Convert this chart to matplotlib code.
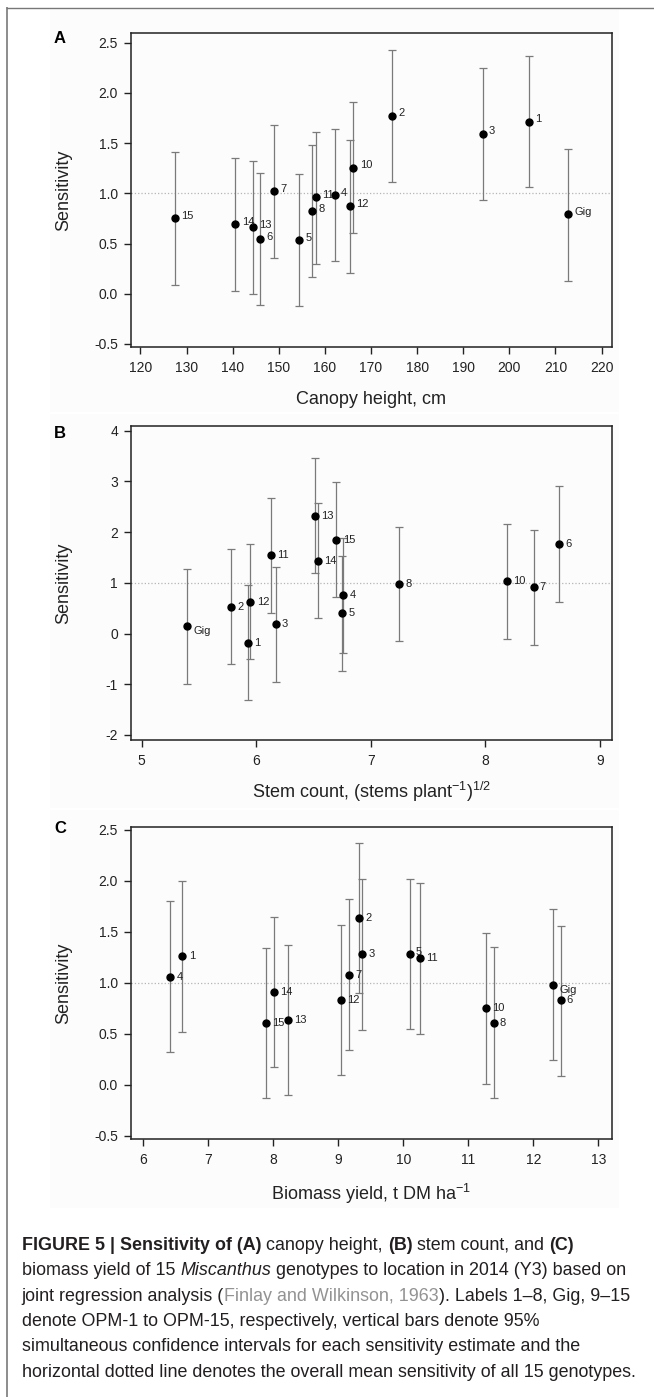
import matplotlib
matplotlib.use('Agg')
import matplotlib.pyplot as plt
from matplotlib import font_manager
from matplotlib.lines import Line2D
from matplotlib.patches import Rectangle

W, H = 654, 1397
DPI = 100

# (A) canopy height vs sensitivity
labels_a = ['15', '14', '13', '6', '7', '5', '8', '11', '4', '12', '10', '2', '3', '1', 'Gig']
x_a = [127.4, 140.6, 144.4, 146.0, 149.0, 154.4, 157.2, 158.0, 162.1, 165.4, 166.2, 174.6, 194.2, 204.2, 212.8]
y_a = [0.75, 0.69, 0.66, 0.54, 1.02, 0.53, 0.82, 0.96, 0.98, 0.87, 1.25, 1.77, 1.59, 1.71, 0.79]
lo_a = [0.09, 0.03, 0.00, -0.11, 0.36, -0.12, 0.17, 0.30, 0.33, 0.21, 0.60, 1.11, 0.93, 1.06, 0.13]
hi_a = [1.41, 1.35, 1.32, 1.20, 1.68, 1.19, 1.48, 1.61, 1.64, 1.53, 1.91, 2.43, 2.25, 2.37, 1.44]

# (B) stem count vs sensitivity
labels_b = ['Gig', '2', '12', '1', '11', '3', '13', '14', '15', '4', '5', '8', '10', '7', '6']
x_b = [5.40, 5.78, 5.95, 5.93, 6.13, 6.17, 6.51, 6.54, 6.70, 6.76, 6.75, 7.25, 8.19, 8.42, 8.64]
y_b = [0.14, 0.53, 0.62, -0.18, 1.54, 0.18, 2.32, 1.44, 1.85, 0.76, 0.40, 0.98, 1.03, 0.91, 1.76]
lo_b = [-1.00, -0.61, -0.51, -1.32, 0.41, -0.96, 1.20, 0.30, 0.72, -0.38, -0.73, -0.15, -0.10, -0.22, 0.63]
hi_b = [1.27, 1.67, 1.76, 0.96, 2.68, 1.32, 3.46, 2.58, 2.99, 1.89, 1.53, 2.11, 2.17, 2.05, 2.90]

# (C) biomass yield vs sensitivity
labels_c = ['4', '1', '15', '14', '13', '12', '7', '2', '3', '5', '11', '10', '8', 'Gig', '6']
x_c = [6.41, 6.60, 7.88, 8.01, 8.23, 9.04, 9.17, 9.32, 9.37, 10.11, 10.25, 11.27, 11.39, 12.31, 12.42]
y_c = [1.06, 1.26, 0.61, 0.91, 0.64, 0.83, 1.08, 1.64, 1.28, 1.28, 1.24, 0.75, 0.61, 0.98, 0.83]
lo_c = [0.32, 0.52, -0.13, 0.17, -0.10, 0.10, 0.34, 0.90, 0.54, 0.55, 0.50, 0.01, -0.13, 0.24, 0.09]
hi_c = [1.80, 2.00, 1.34, 1.65, 1.37, 1.57, 1.82, 2.37, 2.02, 2.02, 1.98, 1.49, 1.35, 1.72, 1.56]

mean_sensitivity = 1.0

xticks_a = [120, 130, 140, 150, 160, 170, 180, 190, 200, 210, 220]
yticks_a = [-0.5, 0.0, 0.5, 1.0, 1.5, 2.0, 2.5]
xticks_b = [5, 6, 7, 8, 9]
yticks_b = [-2, -1, 0, 1, 2, 3, 4]
xticks_c = [6, 7, 8, 9, 10, 11, 12, 13]
yticks_c = [-0.5, 0.0, 0.5, 1.0, 1.5, 2.0, 2.5]

caption_lines = [
    [('FIGURE 5 | Sensitivity of (A)', 'b'), (' canopy height, ', 'r'), ('(B)', 'b'),
     (' stem count, and ', 'r'), ('(C)', 'b')],
    [('biomass yield of 15 ', 'r'), ('Miscanthus', 'i'),
     (' genotypes to location in 2014 (Y3) based on', 'r')],
    [('joint regression analysis (', 'r'), ('Finlay and Wilkinson, 1963', 'g'),
     ('). Labels 1\u20138, Gig, 9\u201315', 'r')],
    [('denote OPM-1 to OPM-15, respectively, vertical bars denote 95%', 'r')],
    [('simultaneous confidence intervals for each sensitivity estimate and the', 'r')],
    [('horizontal dotted line denotes the overall mean sensitivity of all 15 genotypes.', 'r')],
]

installed = {f.name for f in font_manager.fontManager.ttflist}
BASE = 'Liberation Sans' if 'Liberation Sans' in installed else 'DejaVu Sans'
NARROW = 'Liberation Sans Narrow' if 'Liberation Sans Narrow' in installed else BASE

plt.rcParams['font.family'] = [BASE, 'DejaVu Sans']
plt.rcParams['axes.unicode_minus'] = False
plt.rcParams['mathtext.fontset'] = 'custom'
plt.rcParams['mathtext.rm'] = BASE
plt.rcParams['mathtext.it'] = BASE + ':italic'
plt.rcParams['mathtext.bf'] = BASE + ':bold'

TXT = '#222222'


def fx(px):
    return px / W


def fy(py):
    return 1 - py / H


fig = plt.figure(figsize=(W / DPI, H / DPI), dpi=DPI)
fig.patch.set_facecolor('white')

# outer frame of the figure box (left and top only)
fig.add_artist(Line2D([fx(7.3), fx(7.3)], [fy(8.3), 0], transform=fig.transFigure,
                      color='#8c8c8c', linewidth=1.4))
fig.add_artist(Line2D([fx(7.3), 1], [fy(8.3), fy(8.3)], transform=fig.transFigure,
                      color='#777777', linewidth=1.0))

panels = [
    dict(letter='A', top=32.7, bottom=347.3, base=43.3, x=x_a, y=y_a, lo=lo_a, hi=hi_a,
         labels=labels_a, xlim=(117.9, 222.2), ylim=(-0.534, 2.6), xticks=xticks_a,
         yticks=yticks_a, yfmt='{:.1f}', xlabel='Canopy height, cm', xlab_y=400.0,
         dy=2.0, special={}, bg=(10, 412)),
    dict(letter='B', top=426.0, bottom=740.0, base=438.3, x=x_b, y=y_b, lo=lo_b, hi=hi_b,
         labels=labels_b, xlim=(4.905, 9.102), ylim=(-2.099, 4.093), xticks=xticks_b,
         yticks=yticks_b, yfmt='{:.0f}',
         xlabel=r'Stem count, (stems plant$^{\mathregular{-1}}$)$^{\mathregular{1/2}}$',
         xlab_y=791.7, dy=0.0, special={'Gig': (4.5, -3.5)}, bg=(414, 808)),
    dict(letter='C', top=826.7, bottom=1139.3, base=833.3, x=x_c, y=y_c, lo=lo_c, hi=hi_c,
         labels=labels_c, xlim=(5.805, 13.206), ylim=(-0.535, 2.532), xticks=xticks_c,
         yticks=yticks_c, yfmt='{:.1f}', xlabel=r'Biomass yield, t DM ha$^{\mathregular{-1}}$',
         xlab_y=1194.3, dy=0.0, special={'Gig': (4.5, -3.5), '5': (4.0, 2.0)}, bg=(810, 1208)),
]

left_px, right_px = 130.7, 611.7

for p in panels:
    # faint grey background of the pasted panel image
    fig.add_artist(Rectangle((fx(50), fy(p['bg'][1])), fx(619) - fx(50),
                             (p['bg'][1] - p['bg'][0]) / H, transform=fig.transFigure,
                             facecolor='#fcfcfc', edgecolor='none', zorder=-1))

    h_px = p['bottom'] - p['top']
    ax = fig.add_axes([fx(left_px), fy(p['bottom']), (right_px - left_px) / W, h_px / H])
    ax.set_facecolor('none')

    yerr = [[yi - l for yi, l in zip(p['y'], p['lo'])],
            [h - yi for yi, h in zip(p['y'], p['hi'])]]
    ax.axhline(mean_sensitivity, color='#b5b5b5', linestyle=':', linewidth=0.9, zorder=1)
    ax.errorbar(p['x'], p['y'], yerr=yerr, fmt='none', ecolor='#7a7a7a',
                elinewidth=0.9, capsize=2.9, capthick=0.9, zorder=2)
    ax.plot(p['x'], p['y'], 'o', color='black', markersize=5, zorder=3)

    for lab, xi, yi in zip(p['labels'], p['x'], p['y']):
        off = p['special'].get(lab, (4.5, p['dy']))
        ax.annotate(lab, (xi, yi), xytext=off, textcoords='offset points',
                    fontsize=8, ha='left', va='center', color=TXT)

    ax.set_xlim(*p['xlim'])
    ax.set_ylim(*p['ylim'])
    ax.set_xticks(p['xticks'])
    ax.set_xticklabels([str(t) for t in p['xticks']])
    ax.set_yticks(p['yticks'])
    ax.set_yticklabels([p['yfmt'].format(t) for t in p['yticks']])

    for sp in ax.spines.values():
        sp.set_linewidth(1.1)
        sp.set_color(TXT)
    ax.tick_params(direction='out', length=4.8, width=1.0, colors=TXT, labelsize=10)
    ax.tick_params(axis='x', pad=5)
    ax.tick_params(axis='y', pad=4.3)

    ax.set_xlabel(p['xlabel'], fontsize=13, color=TXT)
    ax.xaxis.label.set_va('center')
    ax.xaxis.set_label_coords(0.5, -(p['xlab_y'] - p['bottom']) / h_px)
    ax.set_ylabel('Sensitivity', fontsize=13, color=TXT)
    ax.yaxis.label.set_va('center')
    ax.yaxis.set_label_coords(-(left_px - 63.3) / (right_px - left_px), 0.5)

    fig.text(fx(60), fy(p['base']), p['letter'], fontsize=12, fontweight='bold',
             ha='center', va='baseline', color='black')

# caption, laid out run by run
renderer = fig.canvas.get_renderer()


def text_width(s, **kw):
    t = fig.text(0, 0, '|' + s + '|', **kw)
    w1 = t.get_window_extent(renderer).width
    t.remove()
    t = fig.text(0, 0, '||', **kw)
    w0 = t.get_window_extent(renderer).width
    t.remove()
    return w1 - w0


ref = text_width('horizontal dotted line denotes the over', family=NARROW, fontsize=12.8)
cap_size = 12.8 * 303.0 / ref
styles = {
    'r': dict(fontweight='normal', fontstyle='normal', color='#231f20'),
    'b': dict(fontweight='bold', fontstyle='normal', color='#231f20'),
    'i': dict(fontweight='normal', fontstyle='italic', color='#231f20'),
    'g': dict(fontweight='normal', fontstyle='normal', color='#939393'),
}
base0, step = 1250.0, 25.33
for i, line in enumerate(caption_lines):
    xcur = 21.7
    ybase = base0 + i * step
    for seg, st in line:
        kw = dict(family=NARROW, fontsize=cap_size, **styles[st])
        fig.text(fx(xcur), fy(ybase), seg, ha='left', va='baseline', **kw)
        xcur += text_width(seg, **kw)

fig.savefig('out.png', dpi=DPI)
